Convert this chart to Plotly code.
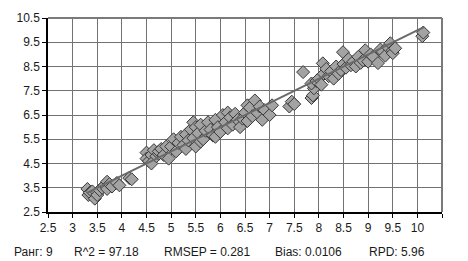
import plotly.graph_objects as go

x_vals = [3.30, 3.32, 3.35, 3.40, 3.45, 3.50, 3.50, 3.55, 3.60, 3.65, 3.70, 3.70, 3.75, 3.80, 3.90, 3.95, 4.15, 4.20,
          4.50, 4.50, 4.55, 4.60, 4.60, 4.65, 4.70, 4.75, 4.75, 4.80, 4.85, 4.90, 4.95,
          5.00, 5.05, 5.10, 5.15, 5.20, 5.25, 5.30, 5.30, 5.35, 5.40, 5.45, 5.45, 5.50, 5.50, 5.55, 5.60, 5.60,
          5.65, 5.70, 5.75, 5.80, 5.85, 5.90, 5.90, 5.95, 6.00, 6.05, 6.10, 6.15, 6.15, 6.20, 6.25, 6.30, 6.35,
          6.40, 6.45, 6.50, 6.55, 6.55, 6.60, 6.65, 6.70, 6.75, 6.80, 6.85, 6.90, 7.00, 7.05,
          7.40, 7.45, 7.50, 7.68,
          7.85, 7.88, 7.90, 7.85, 7.95, 8.00, 8.05, 8.08, 8.10, 8.15, 8.20, 8.25, 8.30, 8.35, 8.40, 8.45, 8.49,
          8.50, 8.55, 8.60, 8.65, 8.70, 8.75, 8.80, 8.85, 8.90, 8.94, 9.00, 9.05, 9.10, 9.20, 9.25, 9.30, 9.35,
          9.40, 9.45, 9.50, 9.50, 9.55, 10.10, 10.12]
y_vals = [3.45, 3.20, 3.30, 3.35, 3.05, 3.30, 3.20, 3.40, 3.50, 3.60, 3.45, 3.75, 3.65, 3.55, 3.70, 3.60, 3.90, 3.85,
          4.95, 4.70, 4.60, 4.85, 4.50, 5.05, 4.80, 4.90, 5.00, 5.10, 4.85, 5.20, 4.70,
          5.20, 5.50, 5.00, 5.35, 5.60, 5.25, 5.70, 5.10, 5.45, 5.90, 5.55, 6.20, 5.20, 6.00, 5.75, 6.10, 5.40,
          5.50, 5.85, 6.20, 5.90, 5.65, 6.30, 5.60, 6.00, 5.80, 6.50, 6.20, 5.95, 6.60, 6.40, 6.10, 6.55, 6.30,
          6.00, 6.35, 6.60, 6.25, 6.90, 6.80, 6.45, 7.10, 6.60, 6.85, 6.30, 6.70, 6.50, 6.90,
          6.85, 7.05, 6.95, 8.27,
          7.20, 7.31, 7.60, 7.80, 7.90, 8.00, 7.75, 8.63, 8.20, 8.40, 8.10, 8.30, 8.00, 8.50, 8.20, 8.35, 9.09,
          8.60, 8.45, 8.80, 8.55, 8.70, 8.50, 8.90, 8.65, 8.75, 9.17, 8.70, 9.00, 8.90, 8.64, 9.20, 9.10, 8.95,
          9.30, 9.46, 9.17, 9.05, 9.25, 9.75, 9.90]

line_x = [3.30, 10.13]
line_y = [3.30, 10.12]

x_ticks = [2.5, 3, 3.5, 4, 4.5, 5, 5.5, 6, 6.5, 7, 7.5, 8, 8.5, 9, 9.5, 10, 10.5]
x_tick_text = ["2.5", "3", "3.5", "4", "4.5", "5", "5.5", "6", "6.5", "7", "7.5", "8", "8.5", "9", "9.5", "10", ""]
y_ticks = [2.5, 3.5, 4.5, 5.5, 6.5, 7.5, 8.5, 9.5, 10.5]
y_tick_text = ["2.5", "3.5", "4.5", "5.5", "6.5", "7.5", "8.5", "9.5", "10.5"]

stats = ["Ранг: 9", "R^2 = 97.18", "RMSEP = 0.281", "Bias: 0.0106", "RPD: 5.96"]
stats_px = [12, 72, 162, 273, 367]

fig = go.Figure()
fig.add_trace(go.Scatter(x=x_vals, y=y_vals, mode="markers",
                         marker=dict(symbol="diamond", size=10, color="#a3a3a3",
                                     line=dict(color="#383838", width=1)),
                         showlegend=False, hoverinfo="skip"))
fig.add_trace(go.Scatter(x=line_x, y=line_y, mode="lines",
                         line=dict(color="#6a6a6a", width=2),
                         showlegend=False, hoverinfo="skip"))

L, R, T, B = 48, 26, 18, 49
W, H = 468, 261
pw = W - L - R

font = dict(family="Liberation Sans, Arial, sans-serif", size=12, color="#1a1a1a")

fig.update_layout(
    template="none",
    width=W, height=H,
    margin=dict(l=L, r=R, t=T, b=B, autoexpand=False),
    paper_bgcolor="white", plot_bgcolor="white",
    font=font,
    xaxis=dict(range=[2.5, 10.5], tickvals=x_ticks, ticktext=x_tick_text,
               showgrid=True, gridcolor="#737373", gridwidth=1,
               showline=True, linecolor="black", linewidth=1.5,
               ticks="outside", ticklen=4, tickcolor="black",
               zeroline=False, fixedrange=True, automargin=False),
    yaxis=dict(range=[2.5, 10.5], tickvals=y_ticks, ticktext=y_tick_text,
               showgrid=True, gridcolor="#737373", gridwidth=1,
               showline=True, linecolor="black", linewidth=1.5,
               ticks="outside", ticklen=4, tickcolor="black",
               zeroline=False, fixedrange=True, automargin=False),
)

# top and right gray borders
fig.add_shape(type="line", xref="paper", yref="paper", x0=0, x1=1, y0=1, y1=1,
              line=dict(color="#7a7a7a", width=2))
fig.add_shape(type="line", xref="paper", yref="paper", x0=1, x1=1, y0=0, y1=1,
              line=dict(color="#7a7a7a", width=2))

for s, px in zip(stats, stats_px):
    fig.add_annotation(text=s, xref="paper", yref="paper",
                       x=(px - L) / pw, y=-(252 - (H - B)) / (H - T - B),
                       xanchor="left", yanchor="middle", showarrow=False, font=font)

fig.write_html("out.html", config={"displayModeBar": False},
               post_script="document.body.style.margin='0';document.body.style.padding='0';document.body.style.overflow='hidden';")
